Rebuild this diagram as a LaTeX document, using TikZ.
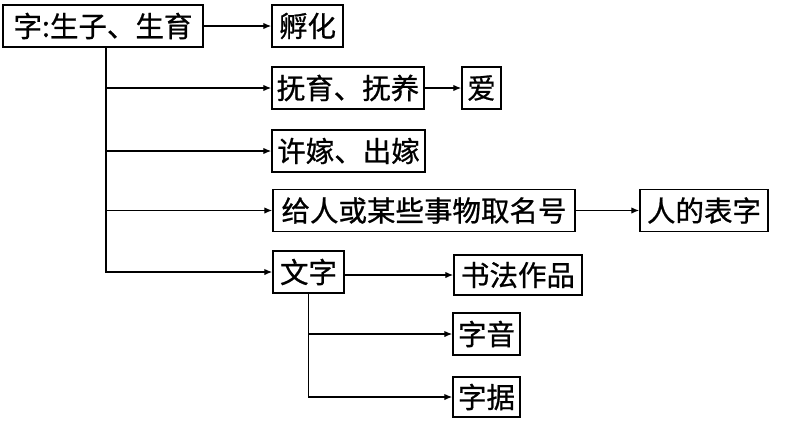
\documentclass[tikz,border=0pt]{standalone}
\usepackage{fontspec}
\newfontfamily\cjk[FakeBold=0.8]{Noto Sans CJK SC}
\usetikzlibrary{arrows.meta}

\begin{document}
\begin{tikzpicture}[x=1pt,y=-1pt]

                    \tikzset{box/.style = {shape=rectangle,draw,line width=1.5pt,inner sep=0pt,minimum height=42pt,font=\cjk\fontsize{28.5}{30}\selectfont}}
                    \tikzset{edge/.style = {->,> = {Latex[length=8pt,width=6.5pt]},line width=1.3pt}}
                    \useasboundingbox (0,0) rectangle (803,421);

                    \node[box,minimum width=200pt] (zi) at (103,26) {字:生子、生育};
                    \node[box,minimum width=71pt] (fuhua) at (307.5,26) {孵化};
                    \node[box,minimum width=152pt] (fuyu) at (348,88) {抚育、抚养};
                    \node[box,minimum width=39pt] (ai) at (481.5,88) {爱};
                    \node[box,minimum width=153pt] (xujia) at (348.5,151) {许嫁、出嫁};
                    \node[box,minimum width=302pt] (quming) at (424,210.5) {给人或某些事物取名号};
                    \node[box,minimum width=128pt] (biaozi) at (704,210.5) {人的表字};
                    \node[box,minimum width=71pt] (wenzi) at (308.5,272) {文字};
                    \node[box,minimum width=128pt,minimum height=40pt] (shufa) at (518,275) {书法作品};
                    \node[box,minimum width=67pt] (ziyin) at (486.5,334) {字音};
                    \node[box,minimum width=67pt,minimum height=40pt] (ziju) at (486.5,397) {字据};

                    \draw[edge] (zi) to (fuhua);
                    \draw[edge] ([xshift=3pt]zi.south) |- (fuyu);
                    \draw[edge] ([xshift=3pt]zi.south) |- (xujia);
                    \draw[edge] ([xshift=3pt]zi.south) |- (quming);
                    \draw[edge] ([xshift=3pt]zi.south) |- (wenzi);
                    \draw[edge] (fuyu) to (ai);
                    \draw[edge] (quming) to (biaozi);
                    \draw[edge] (wenzi.east |- shufa) to (shufa);
                    \draw[edge] (wenzi.south) |- (ziyin);
                    \draw[edge] (wenzi.south) |- (ziju);

                \end{tikzpicture}
\end{document}
